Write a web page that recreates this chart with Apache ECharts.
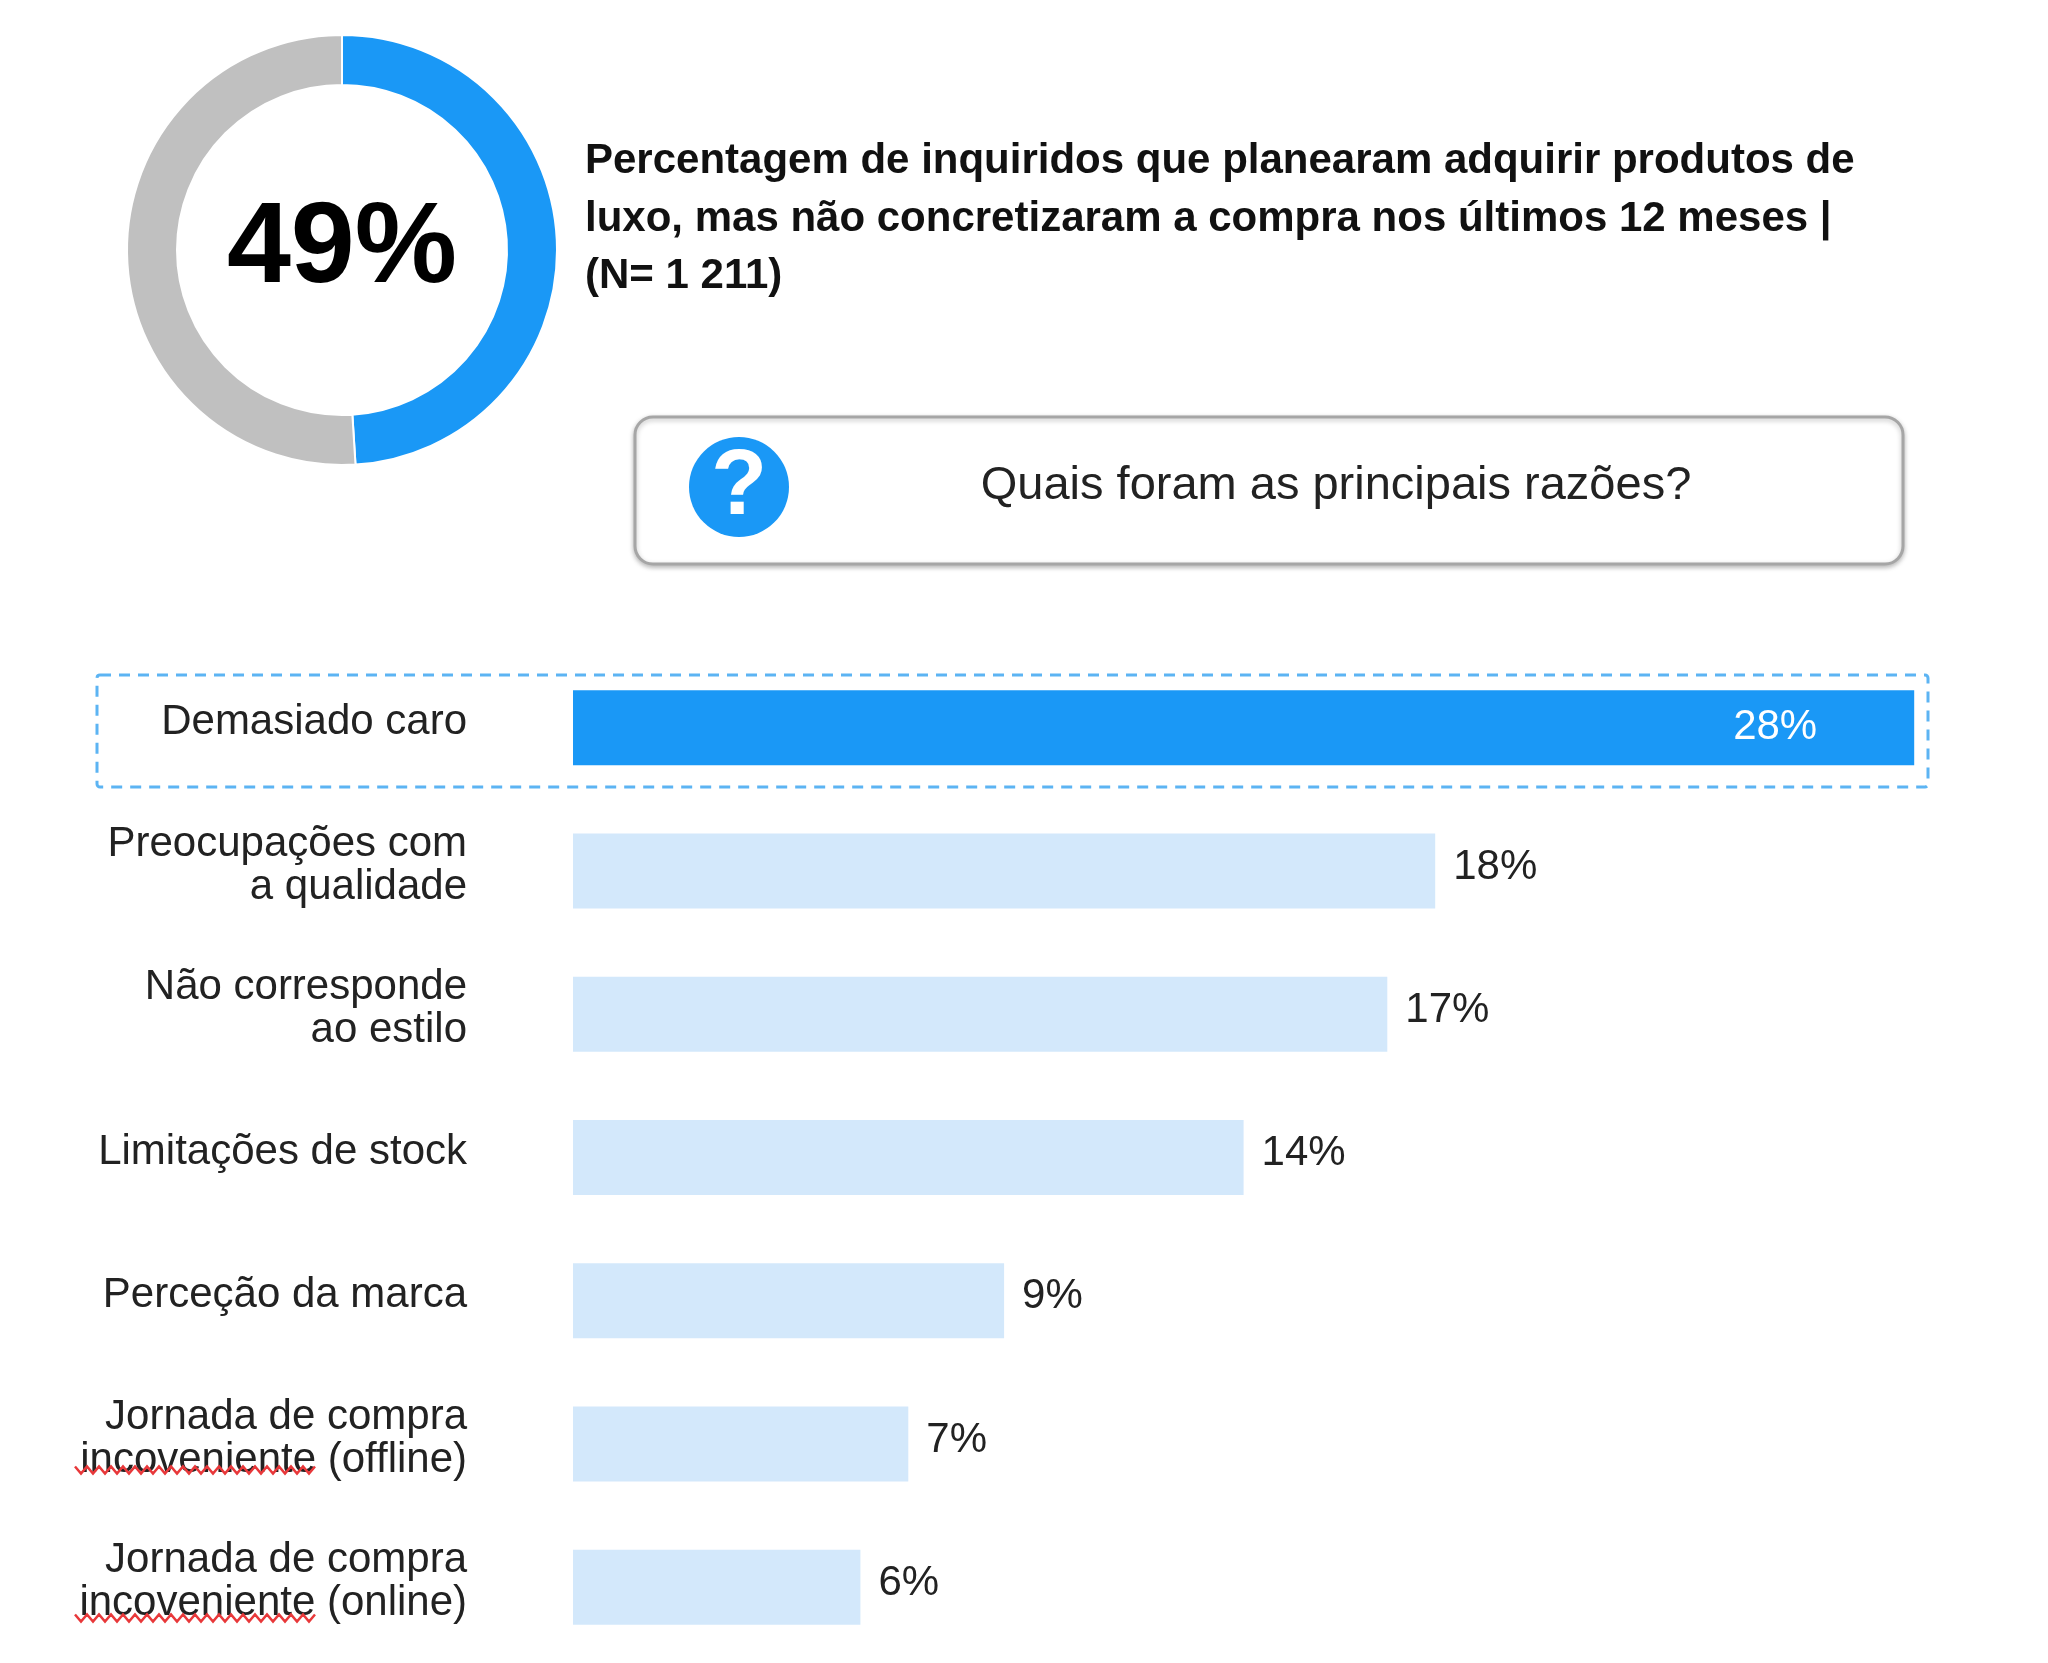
<!DOCTYPE html>
<html>
<head>
<meta charset="utf-8">
<script src="https://cdn.jsdelivr.net/npm/echarts@6/dist/echarts.min.js"></script>
<style>
  html, body { margin: 0; padding: 0; background: #ffffff; }
  #chart { width: 2048px; height: 1663px; }
</style>
</head>
<body>
<div id="chart"></div>
<script>
// ---- data ----
const shareLabels = ['Planearam mas não compraram', 'Restantes'];
const shareValues = [49, 51];
const headline = 'Percentagem de inquiridos que planearam adquirir produtos de\nluxo, mas não concretizaram a compra nos últimos 12 meses |\n(N= 1 211)';
const question = 'Quais foram as principais razões?';
const categories = [
  'Demasiado caro',
  'Preocupações com\na qualidade',
  'Não corresponde\nao estilo',
  'Limitações de stock',
  'Perceção da marca',
  'Jornada de compra\nincoveniente (offline)',
  'Jornada de compra\nincoveniente (online)'
];
const values = [28, 18, 17, 14, 9, 7, 6];

// ---- style ----
const BLUE = '#1a98f6';
const LIGHT = '#d3e8fb';
const GRAY = '#c0c0c0';
const FONT = '"Liberation Sans", Arial, sans-serif';

// spell-check style wavy underline (decoration)
function squiggle(x0, x1, y) {
  const pts = [];
  const half = 6;
  let up = true;
  for (let x = x0; x <= x1; x += half) {
    pts.push([x, y + (up ? -3.5 : 3.5)]);
    up = !up;
  }
  return pts;
}

const chart = echarts.init(document.getElementById('chart'), null, { renderer: 'canvas' });

const barData = values.map((v, i) => ({
  value: v,
  itemStyle: { color: i === 0 ? BLUE : LIGHT },
  label: i === 0
    ? { position: 'insideRight', distance: 97, color: '#ffffff', offset: [0, 0] }
    : { position: 'right', distance: 18, color: '#222222', offset: [0, -4] }
}));

const option = {
  backgroundColor: '#ffffff',
  animation: false,
  title: {
    text: headline,
    left: 580,
    top: 128,
    textStyle: {
      fontFamily: FONT,
      fontSize: 42,
      fontWeight: 'bold',
      color: '#111111',
      lineHeight: 57.5
    }
  },
  grid: { left: 573, top: 656, width: 1437, height: 1003, containLabel: false },
  xAxis: { type: 'value', min: 0, max: 30, show: false },
  yAxis: {
    type: 'category',
    data: categories,
    inverse: true,
    axisLine: { show: false },
    axisTick: { show: false },
    splitLine: { show: false },
    axisLabel: {
      fontFamily: FONT,
      fontSize: 42,
      lineHeight: 43,
      color: '#222222',
      margin: 106,
      align: 'right',
      formatter: v => v + '\n{s| }',
      rich: { s: { fontSize: 2, lineHeight: 10 } }
    }
  },
  series: [
    {
      type: 'pie',
      center: [342, 250],
      radius: [165, 215],
      startAngle: 90,
      clockwise: true,
      silent: true,
      avoidLabelOverlap: false,
      labelLine: { show: false },
      itemStyle: { borderColor: '#ffffff', borderWidth: 2 },
      data: shareLabels.map((n, i) => ({
        name: n,
        value: shareValues[i],
        itemStyle: { color: i === 0 ? BLUE : GRAY },
        label: i === 0 ? {
          show: true,
          position: 'center',
          formatter: () => shareValues[0] + '%',
          fontFamily: FONT,
          fontSize: 115,
          fontWeight: 'bold',
          color: '#000000'
        } : { show: false }
      }))
    },
    {
      type: 'bar',
      data: barData,
      barWidth: 75,
      silent: true,
      label: {
        show: true,
        formatter: p => p.value + '%',
        fontFamily: FONT,
        fontSize: 42
      }
    }
  ],
  graphic: [
    {
      type: 'rect',
      shape: { x: 635, y: 417, width: 1268, height: 147, r: 18 },
      style: {
        fill: '#ffffff',
        stroke: '#a6a6a6',
        lineWidth: 3,
        shadowBlur: 5,
        shadowOffsetY: 2,
        shadowColor: 'rgba(0,0,0,0.25)'
      },
      z: 1
    },
    {
      type: 'circle',
      shape: { cx: 739, cy: 487, r: 50 },
      style: { fill: BLUE },
      z: 2
    },
    {
      type: 'text',
      x: 739,
      y: 489,
      style: {
        text: '?',
        fill: '#ffffff',
        font: 'bold 92px ' + FONT,
        align: 'center',
        verticalAlign: 'middle'
      },
      z: 3
    },
    {
      type: 'text',
      x: 1336,
      y: 486,
      style: {
        text: question,
        fill: '#222222',
        font: '47px ' + FONT,
        align: 'center',
        verticalAlign: 'middle'
      },
      z: 3
    },
    {
      type: 'rect',
      shape: { x: 97, y: 675, width: 1831, height: 112, r: 3 },
      style: {
        fill: 'none',
        stroke: '#5cb4f3',
        lineWidth: 3,
        lineDash: [11, 8]
      },
      z: 0
    },
    {
      type: 'polyline',
      shape: { points: squiggle(75, 316, 1470) },
      style: { stroke: '#e8383a', lineWidth: 2.5, fill: 'none' },
      z: 3
    },
    {
      type: 'polyline',
      shape: { points: squiggle(75, 316, 1618) },
      style: { stroke: '#e8383a', lineWidth: 2.5, fill: 'none' },
      z: 3
    }
  ]
};

chart.setOption(option);
</script>
</body>
</html>
